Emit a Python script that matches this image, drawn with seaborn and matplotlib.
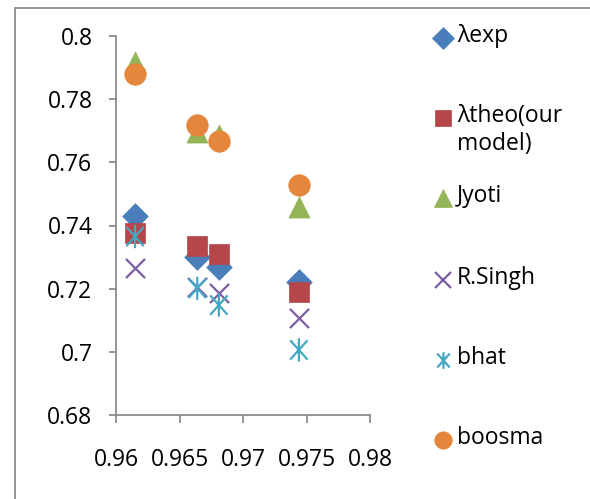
import matplotlib
matplotlib.use("Agg")
import matplotlib.pyplot as plt
import seaborn as sns
import pandas as pd
from matplotlib.path import Path
from matplotlib.lines import Line2D
from matplotlib.patches import Rectangle

# ---- data ----
x_vals = [0.9615, 0.9664, 0.9681, 0.9744]
lam_exp = [0.743, 0.730, 0.727, 0.722]
lam_theo = [0.7376, 0.7334, 0.7311, 0.7189]
jyoti = [0.7919, 0.7697, 0.7687, 0.7457]
r_singh = [0.7266, 0.7204, 0.7187, 0.7106]
bhat = [0.7365, 0.7201, 0.7148, 0.7006]
boosma = [0.7879, 0.7718, 0.7668, 0.7528]

series_names = ["λexp", "λtheo(our\nmodel)", "Jyoti", "R.Singh", "bhat", "boosma"]
series_values = [lam_exp, lam_theo, jyoti, r_singh, bhat, boosma]
x_ticks = [0.96, 0.965, 0.97, 0.975, 0.98]
y_ticks = [0.68, 0.70, 0.72, 0.74, 0.76, 0.78, 0.80]
y_tick_labels = ["0.68", "0.7", "0.72", "0.74", "0.76", "0.78", "0.8"]
x_tick_labels = ["0.96", "0.965", "0.97", "0.975", "0.98"]

# ---- styles ----
star = Path([(-0.45, -0.5), (0.45, 0.5), (-0.45, 0.5), (0.45, -0.5), (0, -0.6), (0, 0.6)],
            [Path.MOVETO, Path.LINETO, Path.MOVETO, Path.LINETO, Path.MOVETO, Path.LINETO])
colors = ["#4A7EBB", "#B5474A", "#93B556", "#7B5EA0", "#44A8C3", "#E4863C"]
markers = ["D", "s", "^", "x", star, "o"]
sizes = [170, 210, 230, 190, 280, 240]
kinds = ["fill", "fill", "fill", "line", "path", "fill"]
leg_ms = [11.0, 12.0, 13.0, 11.0, 12.0, 12.5]

sns.set_style("white")
plt.rcParams["font.family"] = ["Open Sans", "DejaVu Sans"]
FS = 16.5

fig = plt.figure(figsize=(5.90, 4.99), dpi=100)
ax = fig.add_axes([116/590, 1-415/499, (370-116)/590, (415-36)/499])

for name, vals, c, m, s, k in zip(series_names, series_values, colors, markers, sizes, kinds):
    df = pd.DataFrame({"x": x_vals, "y": vals})
    if k == "fill":
        sns.scatterplot(data=df, x="x", y="y", marker=m, s=s, color=c,
                        edgecolor=c, linewidth=0.5, ax=ax, legend=False, zorder=3)
    elif k == "line":
        sns.scatterplot(data=df, x="x", y="y", marker=m, s=s, color=c,
                        linewidth=1.6, ax=ax, legend=False, zorder=3)
    else:
        sns.scatterplot(data=df, x="x", y="y", marker=m, s=s, color=c,
                        edgecolor=c, facecolor="none", linewidth=1.6, ax=ax,
                        legend=False, zorder=3)

ax.set_xlim(0.96, 0.98)
ax.set_ylim(0.68, 0.80)
ax.set_xticks(x_ticks)
ax.set_xticklabels(x_tick_labels)
ax.set_yticks(y_ticks)
ax.set_yticklabels(y_tick_labels)
ax.set_xlabel("")
ax.set_ylabel("")
for sp in ["top", "right"]:
    ax.spines[sp].set_visible(False)
for sp in ["left", "bottom"]:
    ax.spines[sp].set_color("#8C8C8C")
    ax.spines[sp].set_linewidth(1.3)
ax.tick_params(axis="both", which="both", direction="out", color="#8C8C8C",
               width=1.3, labelsize=FS, labelcolor="black")
ax.tick_params(axis="y", length=5, pad=12, left=True)
ax.tick_params(axis="x", length=6, pad=18, bottom=True)
ax.grid(False)

# ---- legend (manual, Excel-style spacing) ----
leg_y = [38, 118, 198, 280, 360, 440]
for name, c, m, ms, k, yy in zip(series_names, colors, markers, leg_ms, kinds, leg_y):
    f = k == "fill"
    h = Line2D([443/590], [1 - yy/499], transform=fig.transFigure, marker=m,
               markersize=ms, color=c, linestyle="none",
               markeredgewidth=1.6 if not f else 0.5,
               markerfacecolor=c if f else "none", markeredgecolor=c)
    fig.add_artist(h)
    fig.text(457/590, 1 - (yy - 14)/499, name, fontsize=FS, va="top", ha="left",
             linespacing=1.25, color="black")

# outer chart-area frame (partially visible)
top = 1 - 8/499
fig.add_artist(Rectangle((15/590, -0.2), 1.2, top + 0.2, transform=fig.transFigure,
                         fill=False, edgecolor="#8C8C8C", linewidth=1.3))

fig.savefig("out.png", dpi=100)
